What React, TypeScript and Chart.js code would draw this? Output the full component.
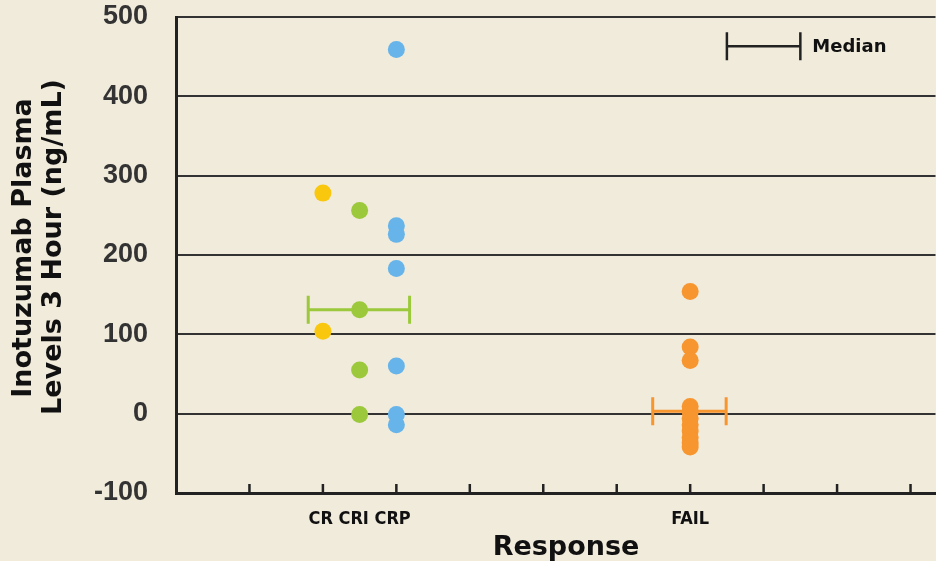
import React, { useEffect, useRef } from "react";
import { Chart, registerables } from "chart.js";
Chart.register(...registerables);

// ---- data ----
const categories = ["CR", "CRI", "CRP", "FAIL"];
const categoryX = [2, 2.5, 3, 7];
const crValues = [278, 104];
const criValues = [256, 131, 55, -1];
const crpValues = [459, 237, 226, 183, 60, -1, -14];
const failValues = [154, 84, 67, 9, 2, -6, -14, -22, -30, -37, -42];
const xTickLabels = ["CR CRI CRP", "FAIL"];
const xTickPositions = [2.5, 7];
const yTicks = [-100, 0, 100, 200, 300, 400, 500];
const medianValues = [131, 3];
const medianCenters = [2.49, 6.99];
const medianHalfWidths = [0.69, 0.5];

const colors = ["#f9c80e", "#9cc83b", "#66b4ea", "#f7952f"];
const medianColors = ["#9cc83b", "#f7952f"];

const seriesValues = [crValues, criValues, crpValues, failValues];

const overlay = {
  id: "overlay",
  beforeDatasetsDraw(chart: any) {
    const { ctx, scales } = chart;
    const x = scales.x, y = scales.y;
    ctx.save();
    medianValues.forEach((m, i) => {
      const x0 = x.getPixelForValue(medianCenters[i] - medianHalfWidths[i]);
      const x1 = x.getPixelForValue(medianCenters[i] + medianHalfWidths[i]);
      const py = y.getPixelForValue(m);
      ctx.strokeStyle = medianColors[i];
      ctx.lineWidth = 3;
      ctx.beginPath();
      ctx.moveTo(x0, py); ctx.lineTo(x1, py);
      ctx.moveTo(x0, py - 14); ctx.lineTo(x0, py + 14);
      ctx.moveTo(x1, py - 14); ctx.lineTo(x1, py + 14);
      ctx.stroke();
    });
    ctx.restore();
  },
  afterDraw(chart: any) {
    const { ctx, scales, chartArea } = chart;
    const x = scales.x, y = scales.y;
    ctx.save();
    // inward tick marks on x axis
    ctx.strokeStyle = "#222";
    ctx.lineWidth = 2.5;
    ctx.beginPath();
    for (let k = 1; k <= 10; k++) {
      const px = x.getPixelForValue(k);
      ctx.moveTo(px, chartArea.bottom);
      ctx.lineTo(px, chartArea.bottom - 9);
    }
    ctx.stroke();
    // legend
    const lx0 = x.getPixelForValue(7.5);
    const lx1 = x.getPixelForValue(8.5);
    const ly = y.getPixelForValue(463);
    ctx.lineWidth = 2.5;
    ctx.beginPath();
    ctx.moveTo(lx0, ly); ctx.lineTo(lx1, ly);
    ctx.moveTo(lx0, ly - 14); ctx.lineTo(lx0, ly + 14);
    ctx.moveTo(lx1, ly - 14); ctx.lineTo(lx1, ly + 14);
    ctx.stroke();
    ctx.fillStyle = "#111";
    ctx.font = "bold 18px 'DejaVu Sans'";
    ctx.textBaseline = "middle";
    ctx.textAlign = "left";
    ctx.fillText("Median", lx1 + 12, ly + 1);
    // x title
    ctx.font = "bold 27px 'DejaVu Sans'";
    ctx.textAlign = "center";
    ctx.fillText("Response", 566, 548);
    // y title
    ctx.font = "bold 27px 'DejaVu Sans'";
    ctx.save();
    ctx.translate(24, 248);
    ctx.rotate(-Math.PI / 2);
    ctx.fillText("Inotuzumab Plasma", 0, 0);
    ctx.restore();
    ctx.save();
    ctx.translate(54, 247);
    ctx.rotate(-Math.PI / 2);
    ctx.fillText("Levels 3 Hour (ng/mL)", 0, 0);
    ctx.restore();
    ctx.restore();
  },
};

export default function App() {
  const ref = useRef<HTMLCanvasElement | null>(null);
  useEffect(() => {
    if (!ref.current) return;
    const chart = new Chart(ref.current, {
      type: "scatter",
      data: {
        datasets: categories.map((c, i) => ({
          label: c,
          data: seriesValues[i].map((v) => ({ x: categoryX[i], y: v })),
          backgroundColor: colors[i],
          borderWidth: 0,
          pointRadius: 8.5,
          pointHoverRadius: 8.5,
        })),
      },
      options: {
        animation: false,
        responsive: false,
        devicePixelRatio: 1,
        layout: { padding: { top: 17, left: 0, right: 0, bottom: 0 } },
        plugins: { legend: { display: false }, tooltip: { enabled: false } },
        scales: {
          x: {
            type: "linear",
            min: 0,
            max: 10.34,
            afterBuildTicks: (s: any) => {
              s.ticks = xTickPositions.map((v) => ({ value: v }));
            },
            afterFit: (s: any) => {
              s.height = 68;
              s.paddingLeft = 0;
              s.paddingRight = 0;
              s.paddingTop = 0;
              s.paddingBottom = 0;
            },
            ticks: {
              autoSkip: false,
              maxRotation: 0,
              padding: 8,
              color: "#111",
              font: { family: "'DejaVu Sans Condensed'", weight: "bold", size: 18 },
              callback: (_v: any, i: number) => xTickLabels[i],
            },
            grid: { display: false },
            border: { display: true, color: "#222", width: 3 },
          },
          y: {
            min: -100,
            max: 500,
            afterBuildTicks: (s: any) => {
              s.ticks = yTicks.map((v) => ({ value: v }));
            },
            afterFit: (s: any) => {
              s.width = 176;
              s.paddingLeft = 0;
              s.paddingRight = 0;
              s.paddingTop = 0;
              s.paddingBottom = 0;
            },
            ticks: {
              padding: 28,
              color: "#333",
              font: { family: "'Liberation Sans'", weight: "bold", size: 27 },
            },
            grid: { color: "#333", lineWidth: 2, drawTicks: false },
            border: { display: true, color: "#222", width: 3 },
          },
        },
      },
      plugins: [overlay],
    } as any);
    return () => chart.destroy();
  }, []);
  return (
    <div
      style={{
        position: "absolute",
        left: 0,
        top: 0,
        width: 936,
        height: 561,
        overflow: "hidden",
        background: "#f1ebdb",
      }}
    >
      <canvas ref={ref} width={944} height={561} style={{ display: "block" }} />
    </div>
  );
}
